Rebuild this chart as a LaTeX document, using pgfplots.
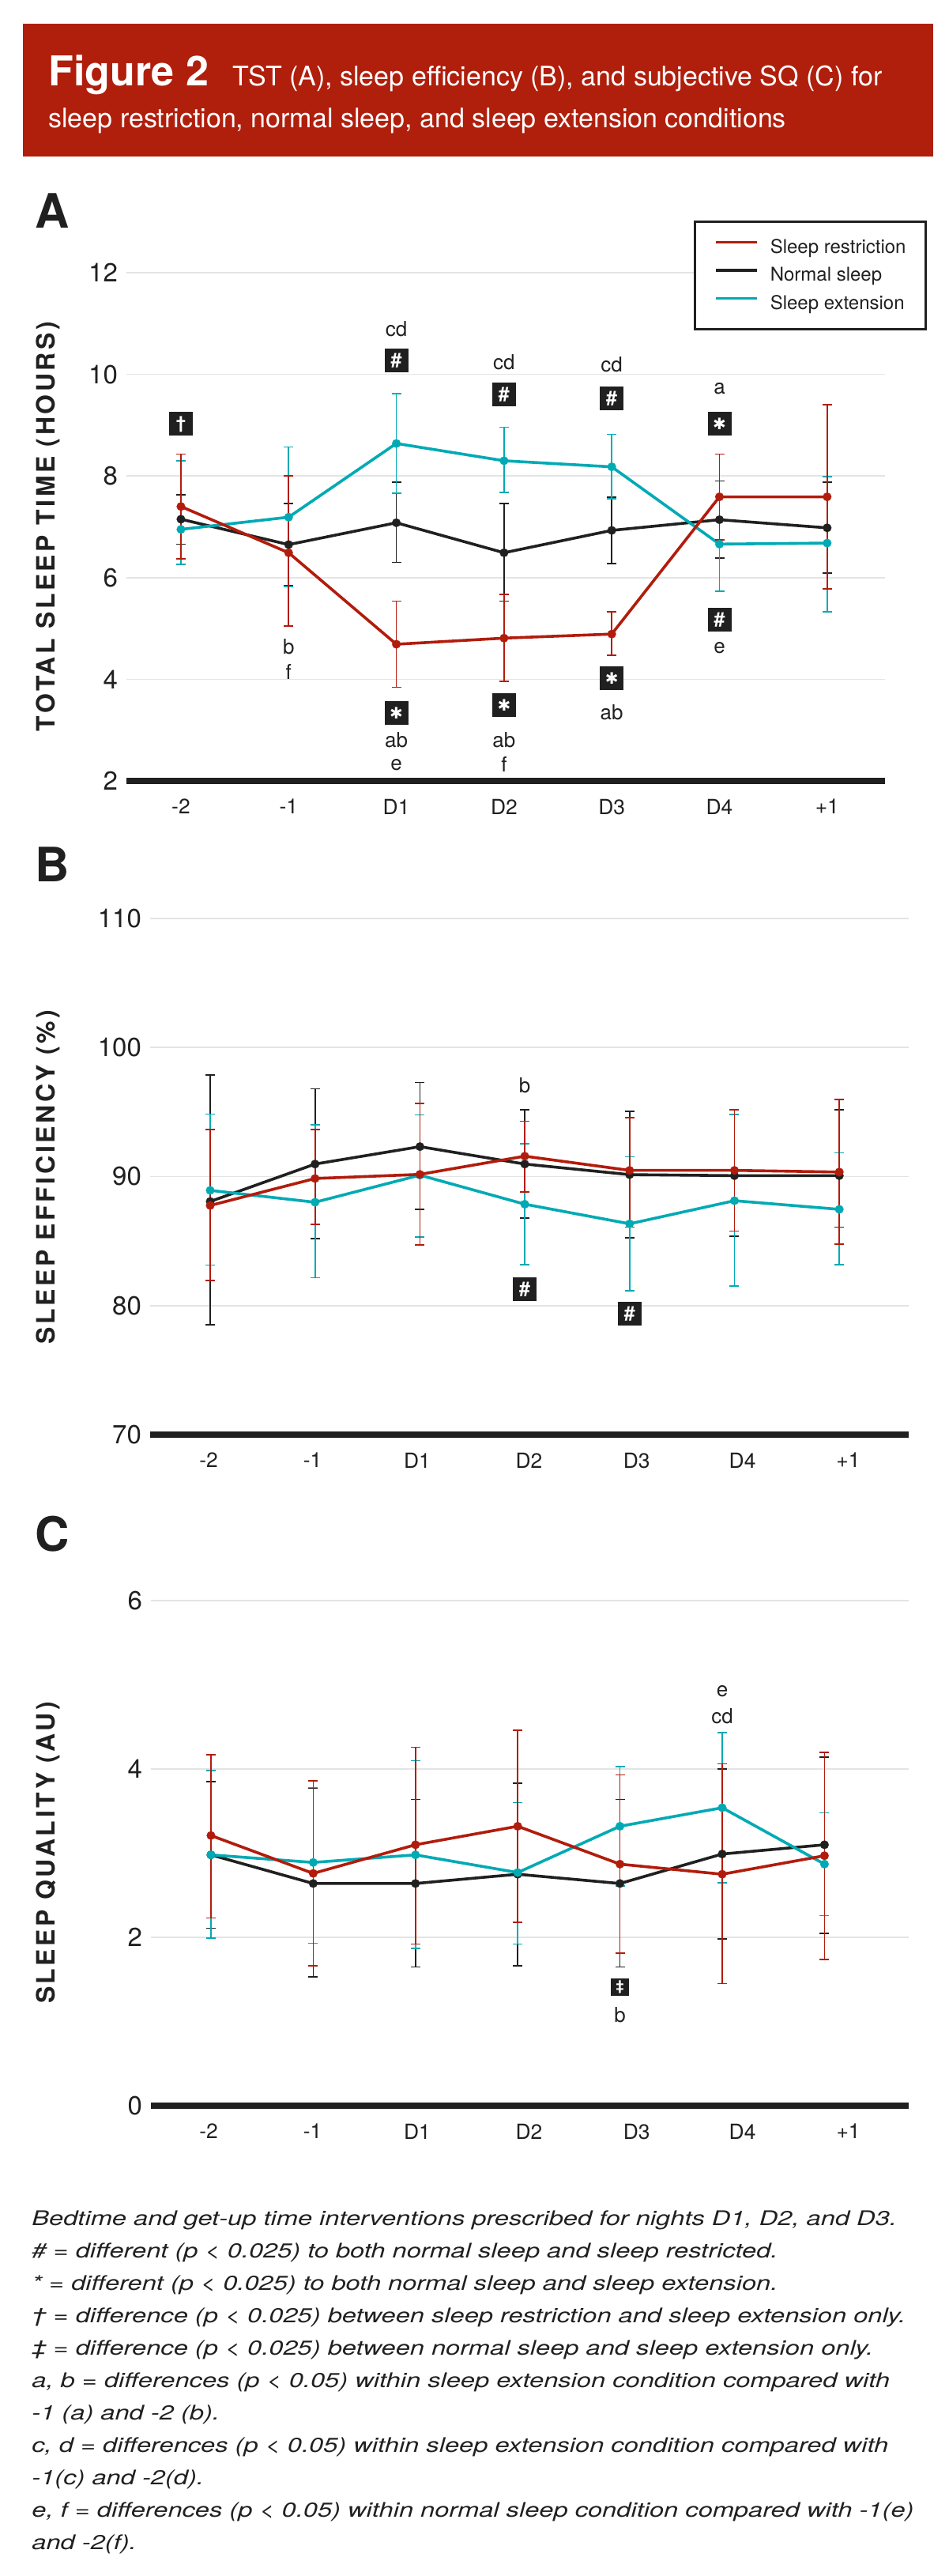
\documentclass[border=0pt]{standalone}
\usepackage{pgfplots}
\pgfplotsset{compat=1.18}
\usepackage{pgfplotstable}
\usepackage{fontspec}
\setmainfont{TeX Gyre Heros}
\newfontfamily\capfont[FakeStretch=1.28]{TeX Gyre Heros}
\newfontfamily\labfont[LetterSpace=11]{TeX Gyre Heros}
\newfontfamily\djv{DejaVu Sans}

\definecolor{cRed}{RGB}{178,28,12}
\definecolor{cTeal}{RGB}{0,170,180}
\definecolor{cBlack}{RGB}{32,32,32}
\definecolor{banner}{RGB}{176,30,12}
\definecolor{gridc}{RGB}{228,228,228}

% x = night index (0=-2, 1=-1, 2=D1 ... 6=+1); p/m = error bar up/down
\pgfplotstableread{
x rs rsp rsm ns nsp nsm se sep sem
0 7.40 1.03 1.03 7.15 0.48 0.49 6.95 1.35 0.69
1 6.49 1.51 1.44 6.65 0.81 0.81 7.19 1.38 1.36
2 4.69 0.85 0.85 7.08 0.80 0.78 8.64 0.98 0.98
3 4.81 0.86 0.85 6.49 0.97 0.95 8.30 0.66 0.62
4 4.89 0.44 0.42 6.93 0.65 0.65 8.18 0.64 0.63
5 7.59 0.84 0.85 7.14 0.76 0.75 6.66 0.93 0.93
6 7.59 1.81 1.81 6.98 0.90 0.89 6.68 1.31 1.35
}\tabA
\pgfplotstableread{
x rs rsp rsm ns nsp nsm se sep sem
0 87.76 5.88 5.82 88.07 9.80 9.54 88.93 5.92 5.80
1 89.85 3.79 3.56 90.97 5.82 5.76 88.01 6.02 5.86
2 90.17 5.50 5.47 92.32 4.98 4.86 90.11 4.66 4.80
3 91.58 2.72 2.79 90.97 4.21 4.19 87.86 4.70 4.70
4 90.48 4.08 4.39 90.15 4.90 4.90 86.34 5.19 5.19
5 90.48 4.68 4.70 90.07 4.74 4.70 88.13 6.68 6.60
6 90.35 5.62 5.60 90.07 5.09 3.98 87.46 4.39 4.30
}\tabB
\pgfplotstableread{
x rs rsp rsm ns nsp nsm se sep sem
0 3.21 0.96 0.98 2.98 0.87 0.87 2.98 1.00 0.99
1 2.76 1.10 1.10 2.64 1.13 1.11 2.89 0.89 0.96
2 3.10 1.16 1.18 2.64 1.00 0.99 2.98 1.12 1.11
3 3.32 1.14 1.14 2.75 1.08 1.09 2.77 0.83 0.85
4 2.87 1.06 1.06 2.64 1.00 0.99 3.32 0.71 0.71
5 2.75 1.31 1.30 2.99 1.01 1.01 3.54 0.89 0.89
6 2.97 1.23 1.23 3.10 1.04 1.05 2.87 0.61 0.61
}\tabC

\pgfplotsset{
  panel/.style={
    scale only axis, anchor=south west, clip=false,
    axis x line=bottom, axis y line=left,
    y axis line style={draw=none},
    x axis line style={line width=4pt, cBlack, -},
    major tick length=0pt,
    ymajorgrids, grid style={gridc, line width=0.8pt},
    xticklabels={-2,-1,D1,D2,D3,D4,+1},
    xticklabel style={font=\fontsize{13.2}{14}\selectfont, yshift=-8pt, text=cBlack},
    yticklabel style={font=\fontsize{16.5}{17}\selectfont, xshift=-2pt, text=cBlack},
    /pgf/number format/assume math mode=true,
  },
  ser/.style={color=#1, line width=1.8pt, mark=*, mark size=2.7pt,
    mark options={solid, fill=#1, line width=0.1pt},
    error bars/y dir=both, error bars/y explicit,
    error bars/error bar style={line width=0.8pt, color=#1},
    error bars/error mark options={rotate=90, line width=0.8pt, color=#1, mark size=3pt}},
}
\tikzset{
  ann/.style={font=\fontsize{13}{13}\selectfont, text=cBlack, inner sep=0pt},
  sig/.style={fill=cBlack, text=white, minimum width=15pt, minimum height=15pt,
    inner sep=0pt, text height=0pt, text depth=0pt},
  sigs/.style={sig, minimum width=11.5pt, minimum height=11pt},
}
\newcommand{\shash}{\fontsize{12.5}{12.5}\selectfont\bfseries\raisebox{-0.34em}{\#}}
\newcommand{\sstar}{\djv\fontsize{10}{10}\selectfont\raisebox{-0.36em}{✱}}
\newcommand{\sdag}{\fontsize{11}{11}\selectfont\bfseries\raisebox{-0.28em}{†}}
\newcommand{\sddag}{\fontsize{9}{9}\selectfont\bfseries\raisebox{-0.28em}{‡}}

\begin{document}
\begin{tikzpicture}
\path[use as bounding box] (0pt,0pt) rectangle (600pt,-1629.5pt);

\begin{scope}[x=0.5pt,y=-0.5pt]
  % title banner
  \fill[banner] (29,30) rectangle (1181,198);
  \node[anchor=base west, inner sep=0pt, text=white, font=\bfseries\fontsize{26}{26}\selectfont] at (61,109) {Figure 2};
  \node[anchor=base west, inner sep=0pt, text=white, font=\fontsize{17}{17}\selectfont] at (294,109) {TST (A), sleep efficiency (B), and subjective SQ (C) for};
  \node[anchor=base west, inner sep=0pt, text=white, font=\fontsize{17}{17}\selectfont] at (61,162) {sleep restriction, normal sleep, and sleep extension conditions};

  % panel letters
  \foreach \l/\yy in {A/288, B/1115, C/1962}
    \node[anchor=base west, inner sep=0pt, text=cBlack, font=\bfseries\fontsize{30}{30}\selectfont] at (44,\yy) {\l};

  % y axis titles
  \node[rotate=90, text=cBlack, font={\labfont\bfseries\fontsize{16}{16}\selectfont}] at (61,666) {TOTAL SLEEP TIME (HOURS)};
  \node[rotate=90, text=cBlack, font={\labfont\bfseries\fontsize{16}{16}\selectfont}] at (61,1489) {SLEEP EFFICIENCY (\%)};
  \node[rotate=90, text=cBlack, font={\labfont\bfseries\fontsize{16}{16}\selectfont}] at (61,2344) {SLEEP QUALITY (AU)};

  % footnote
  \foreach \k/\t in {0/{Bedtime and get-up time interventions prescribed for nights D1, D2, and D3.},
    1/{\# = different (p < 0.025) to both normal sleep and sleep restricted.},
    2/{* = different (p < 0.025) to both normal sleep and sleep extension.},
    3/{† = difference (p < 0.025) between sleep restriction and sleep extension only.},
    4/{‡ = difference (p < 0.025) between normal sleep and sleep extension only.},
    5/{a, b = differences (p < 0.05) within sleep extension condition compared with},
    6/{-1 (a) and -2 (b).},
    7/{c, d = differences (p < 0.05) within sleep extension condition compared with},
    8/{-1(c) and -2(d).},
    9/{e, f = differences (p < 0.05) within normal sleep condition compared with -1(e)},
    10/{and -2(f).}}
    \node[anchor=base west, inner sep=0pt, text=cBlack, font=\capfont\itshape\fontsize{12.75}{12.75}\selectfont] at (40,2815+41*\k) {\t};
\end{scope}

% ---------------- A: total sleep time ----------------
\begin{axis}[panel, at={(80pt,-494pt)}, width=480pt, height=321.5pt,
  xmin=-0.506, xmax=6.537, ymin=2, ymax=12, ytick={2,4,...,12}, xtick={0,...,6},
  legend style={at={(1.0552,1.1027)}, anchor=north east, draw=cBlack, line width=1.5pt,
    font=\fontsize{12}{14}\selectfont, text=cBlack, inner xsep=12.5pt, inner ysep=11pt,
    row sep=7.4pt, nodes={inner sep=0pt}, cells={anchor=west},
    /tikz/every odd column/.append style={column sep=7.5pt}},
  legend cell align=left,
  legend image code/.code={\draw[#1] (0pt,3.2pt) -- (26pt,3.2pt);},
]
\addlegendimage{cRed, line width=1.8pt}\addlegendentry{Sleep restriction}
\addlegendimage{cBlack, line width=1.8pt}\addlegendentry{Normal sleep}
\addlegendimage{cTeal, line width=1.8pt}\addlegendentry{Sleep extension}
\addplot[ser=cBlack, forget plot] table[x=x, y=ns, y error plus=nsp, y error minus=nsm] {\tabA};
\addplot[ser=cTeal, forget plot] table[x=x, y=se, y error plus=sep, y error minus=sem] {\tabA};
\addplot[ser=cRed, forget plot] table[x=x, y=rs, y error plus=rsp, y error minus=rsm] {\tabA};
\node[sig] at (axis cs:0,9.03) {\sdag};
\node[ann] at (axis cs:2,10.90) {cd};
\node[sig] at (axis cs:2,10.27) {\shash};
\node[ann] at (axis cs:3,10.24) {cd};
\node[sig] at (axis cs:3,9.60) {\shash};
\node[ann] at (axis cs:4,10.19) {cd};
\node[sig] at (axis cs:4,9.52) {\shash};
\node[ann] at (axis cs:5,9.72) {a};
\node[sig] at (axis cs:5,9.03) {\sstar};
\node[sig] at (axis cs:5,5.17) {\shash};
\node[ann] at (axis cs:5,4.62) {e};
\node[ann] at (axis cs:1,4.64) {b};
\node[ann] at (axis cs:1,4.15) {f};
\node[sig] at (axis cs:2,3.34) {\sstar};
\node[ann] at (axis cs:2,2.81) {ab};
\node[ann] at (axis cs:2,2.31) {e};
\node[sig] at (axis cs:3,3.49) {\sstar};
\node[ann] at (axis cs:3,2.81) {ab};
\node[ann] at (axis cs:3,2.33) {f};
\node[sig] at (axis cs:4,4.02) {\sstar};
\node[ann] at (axis cs:4,3.35) {ab};
\end{axis}

% ---------------- B: sleep efficiency ----------------
\begin{axis}[panel, at={(95pt,-907.5pt)}, width=480pt, height=326.5pt,
  xmin=-0.573, xmax=6.662, ymin=70, ymax=110, ytick={70,80,...,110},
  xtick={-0.015,0.977,1.974,3.04,4.067,5.076,6.085},
]
\addplot[ser=cBlack] table[x=x, y=ns, y error plus=nsp, y error minus=nsm] {\tabB};
\addplot[ser=cTeal] table[x=x, y=se, y error plus=sep, y error minus=sem] {\tabB};
\addplot[ser=cRed] table[x=x, y=rs, y error plus=rsp, y error minus=rsm] {\tabB};
\node[ann] at (axis cs:3,97.06) {b};
\node[sig] at (axis cs:3,81.3) {\shash};
\node[sig] at (axis cs:4,79.4) {\shash};
\end{axis}

% ---------------- C: sleep quality ----------------
\begin{axis}[panel, at={(95.5pt,-1332pt)}, width=479.5pt, height=319.5pt,
  xmin=-0.587, xmax=6.824, ymin=0, ymax=6, ytick={0,2,4,6},
  xtick={-0.023,0.994,2.017,3.11,4.163,5.198,6.233},
]
\addplot[ser=cBlack] table[x=x, y=ns, y error plus=nsp, y error minus=nsm] {\tabC};
\addplot[ser=cTeal] table[x=x, y=se, y error plus=sep, y error minus=sem] {\tabC};
\addplot[ser=cRed] table[x=x, y=rs, y error plus=rsp, y error minus=rsm] {\tabC};
\node[sigs] at (axis cs:4,1.41) {\sddag};
\node[ann] at (axis cs:4,1.08) {b};
\node[ann] at (axis cs:5,4.92) {e};
\node[ann] at (axis cs:5,4.63) {cd};
\end{axis}
\end{tikzpicture}
\end{document}
